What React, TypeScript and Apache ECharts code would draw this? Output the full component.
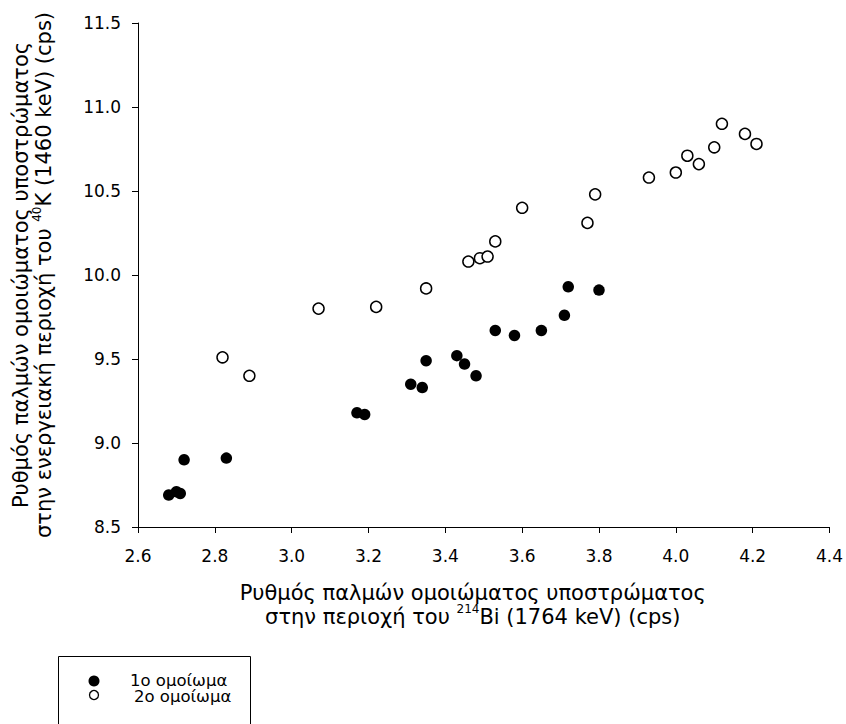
import React, { useEffect, useRef } from "react";
import * as echarts from "echarts";

const xTicksMin = 2.6;
const xTicksMax = 4.4;
const xTickStep = 0.2;
const yTicksMin = 8.5;
const yTicksMax = 11.5;
const yTickStep = 0.5;

const series1Name = "1ο ομοίωμα";
const series2Name = "2ο ομοίωμα";

const series1X = [2.68, 2.70, 2.71, 2.72, 2.83, 3.17, 3.19, 3.31, 3.34, 3.35, 3.43, 3.45, 3.48, 3.53, 3.58, 3.65, 3.71, 3.72, 3.80];
const series1Y = [8.69, 8.71, 8.70, 8.90, 8.91, 9.18, 9.17, 9.35, 9.33, 9.49, 9.52, 9.47, 9.40, 9.67, 9.64, 9.67, 9.76, 9.93, 9.91];

const series2X = [2.82, 2.89, 3.07, 3.22, 3.35, 3.46, 3.49, 3.51, 3.53, 3.60, 3.77, 3.79, 3.93, 4.00, 4.03, 4.06, 4.10, 4.12, 4.18, 4.21];
const series2Y = [9.51, 9.40, 9.80, 9.81, 9.92, 10.08, 10.10, 10.11, 10.20, 10.40, 10.31, 10.48, 10.58, 10.61, 10.71, 10.66, 10.76, 10.90, 10.84, 10.78];

const xTitle = "{n|Ρυθμός παλμών ομοιώματος υποστρώματος}\n{n|στην περιοχή του }{sup|214}{n|Bi (1764 keV) (cps)}";
const yTitle = "{n|Ρυθμός παλμών ομοιώματος υποστρώματος}\n{n|στην ενεργειακή περιοχή του }{sup|40}{n|K (1460 keV) (cps)}";

const FONT = "'DejaVu Sans', sans-serif";

export default function App() {
  const ref = useRef<HTMLDivElement>(null);
  useEffect(() => {
    if (!ref.current) return;
    const chart = echarts.init(ref.current, null, { renderer: "svg" });
    const d1 = series1X.map((x, i) => [x, series1Y[i]]);
    const d2 = series2X.map((x, i) => [x, series2Y[i]]);
    const rich = {
      n: { fontSize: 21, fontFamily: FONT, color: "#000", lineHeight: 24, verticalAlign: "bottom" },
      sup: { fontSize: 12, fontFamily: FONT, color: "#000", lineHeight: 16, verticalAlign: "top" },
    };
    chart.setOption({
      animation: false,
      backgroundColor: "#fff",
      grid: { left: 134, right: 15, top: 23, bottom: 197, containLabel: false },
      xAxis: {
        type: "value",
        min: xTicksMin,
        max: xTicksMax,
        interval: xTickStep,
        name: xTitle,
        nameLocation: "middle",
        nameGap: 52,
        nameTextStyle: {
          fontSize: 21,
          fontFamily: FONT,
          color: "#000",
          lineHeight: 24,
          align: "center",
          padding: [0, 22, 0, 0],
          rich,
        },
        splitLine: { show: false },
        axisLine: { onZero: false, lineStyle: { color: "#000", width: 1 } },
        axisTick: { show: true, inside: false, length: 6, lineStyle: { color: "#000" } },
        axisLabel: { color: "#000", fontSize: 17, fontFamily: FONT, margin: 20, formatter: (v: number) => v.toFixed(1) },
      },
      yAxis: {
        type: "value",
        min: yTicksMin,
        max: yTicksMax,
        interval: yTickStep,
        name: yTitle,
        nameLocation: "middle",
        nameRotate: 90,
        nameGap: 84,
        nameTextStyle: {
          fontSize: 21,
          fontFamily: FONT,
          color: "#000",
          lineHeight: 23,
          align: "center",
          rich: {
            n: { ...rich.n, lineHeight: 23 },
            sup: rich.sup,
          },
        },
        splitLine: { show: false },
        axisLine: { show: true, onZero: false, lineStyle: { color: "#000", width: 1 } },
        axisTick: { show: true, inside: false, length: 6, lineStyle: { color: "#000" } },
        axisLabel: { color: "#000", fontSize: 17, fontFamily: FONT, margin: 17, formatter: (v: number) => v.toFixed(1) },
      },
      series: [
        {
          name: series1Name,
          type: "scatter",
          data: d1,
          symbol: "circle",
          symbolSize: 11.5,
          itemStyle: { color: "#000", opacity: 1 },
        },
        {
          name: series2Name,
          type: "scatter",
          data: d2,
          symbol: "circle",
          symbolSize: 11,
          itemStyle: { color: "#fff", borderColor: "#000", borderWidth: 1.5, opacity: 1 },
        },
      ],
      graphic: [
        {
          type: "rect",
          shape: { x: 58.5, y: 656.5, width: 192, height: 90 },
          style: { fill: "#fff", stroke: "#000", lineWidth: 1 },
        },
        {
          type: "circle",
          shape: { cx: 94, cy: 681, r: 5.5 },
          style: { fill: "#000" },
        },
        {
          type: "circle",
          shape: { cx: 94, cy: 695, r: 4.5 },
          style: { fill: "#fff", stroke: "#000", lineWidth: 1.3 },
        },
        {
          type: "text",
          x: 130,
          y: 680.5,
          style: { text: series1Name, fontSize: 16.5, fontFamily: FONT, fill: "#000", lineHeight: 14, verticalAlign: "middle" },
        },
        {
          type: "text",
          x: 134,
          y: 696,
          style: { text: series2Name, fontSize: 16.5, fontFamily: FONT, fill: "#000", lineHeight: 14, verticalAlign: "middle" },
        },
      ],
    });
    return () => chart.dispose();
  }, []);
  return (
    <div
      ref={ref}
      style={{ position: "fixed", left: 0, top: 0, width: 846, height: 724 }}
    />
  );
}
